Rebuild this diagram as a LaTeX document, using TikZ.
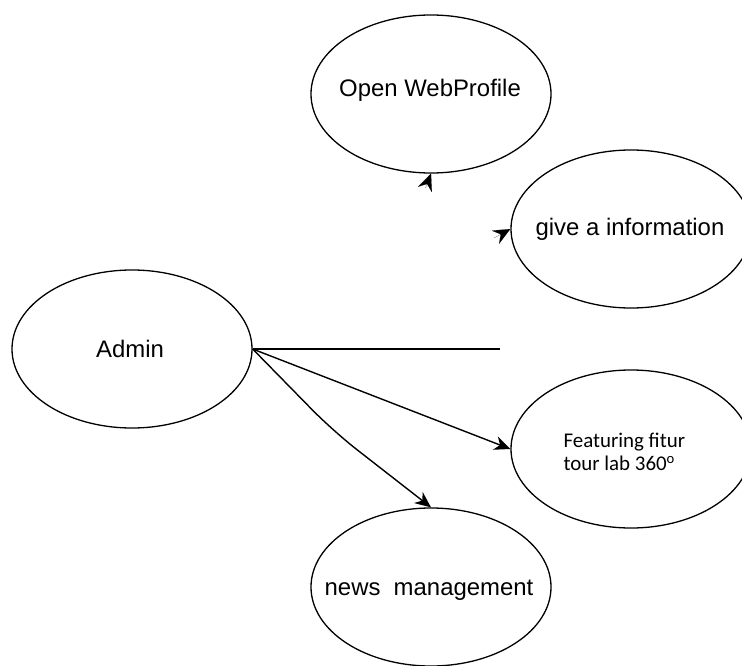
\documentclass[tikz,border=0pt]{standalone}
\usepackage{fontspec}
\setmainfont{Liberation Sans}
\newfontfamily\calibri{Carlito}
\usetikzlibrary{shapes.geometric,arrows.meta}
\begin{document}
\begin{tikzpicture}[x=1bp,y=-1bp,
  uc/.style={draw,ellipse,line width=1.3bp,inner sep=0pt,minimum width=240bp,minimum height=158bp},
  ucl/.style={font=\fontsize{24}{28}\selectfont,inner sep=0pt},
  conn/.style={line width=1.4bp},
  arr/.style={conn,-{Stealth[length=16bp,width=14bp,inset=5bp]}},
  tipstub/.style={-{Stealth[length=17bp,width=15bp,inset=6bp]},line width=0.1bp}]
\useasboundingbox (0,0) rectangle (742,666);
\clip (0,0) rectangle (742,666);
\node[uc] (ow) at (431,94) {};
\node[ucl] (owl) at (430,90) {Open WebProfile};
\node[uc] (gi) at (631,229) {};
\node[ucl] (gil) at (630,229) {give a information};
\node[uc] (ad) at (132,349) {};
\node[ucl] (adl) at (130,349) {Admin};
\node[uc] (ft) at (631,449) {};
\node[font=\calibri\fontsize{21}{23}\selectfont,align=left,anchor=west] (ftl) at (560,452) {Featuring fitur\\tour lab 360\textsuperscript{o}};
\node[uc] (nm) at (431,587) {};
\node[ucl] (nml) at (429,590) {news\ \ management};
% connectors
\coordinate (hend) at (500,349);
\coordinate (bend) at (333,431);
\coordinate (s1) at (425.5,188);
\coordinate (s2) at (494,238);
\draw[conn] (ad.east) -- (hend);
\draw[arr] (ad.east) -- (ft.west);
\draw[arr,rounded corners=30bp] (ad.east) -- (bend) -- (nm.north);
\draw[tipstub] (s1) -- (ow.south);
\draw[tipstub] (s2) -- (gi.west);
\end{tikzpicture}
\end{document}
